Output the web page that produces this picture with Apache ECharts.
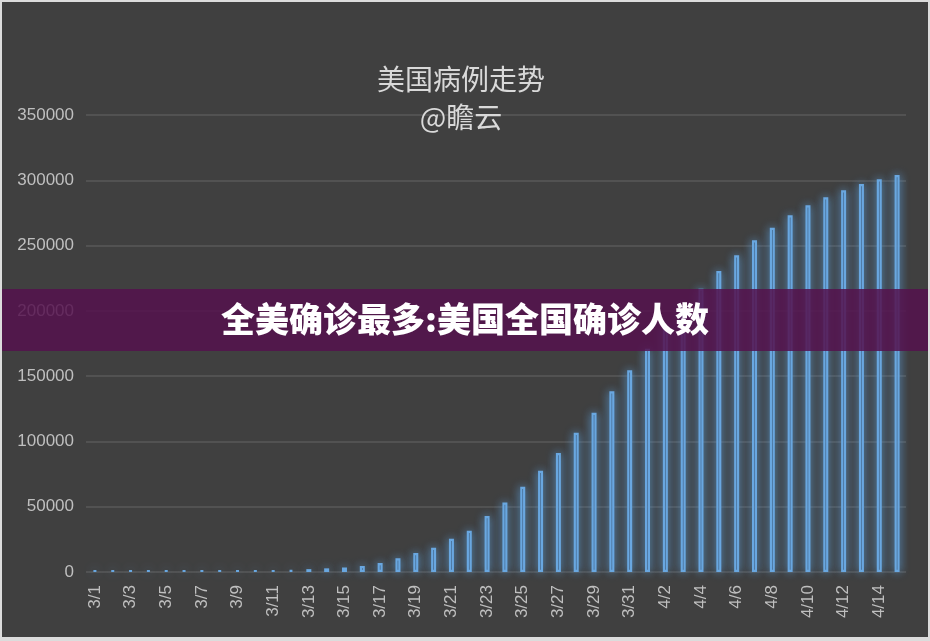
<!DOCTYPE html>
<html>
<head>
<meta charset="utf-8">
<script src="https://cdn.jsdelivr.net/npm/echarts@6/dist/echarts.min.js"></script>
<style>
  html, body { margin: 0; padding: 0; background: #dcdcdc; }
  #main { position: absolute; left: 2px; top: 2px; width: 926px; height: 635px; }
</style>
</head>
<body>
<div id="main"></div>
<script>
// 日期
var dates = ['3/1','3/2','3/3','3/4','3/5','3/6','3/7','3/8','3/9','3/10',
  '3/11','3/12','3/13','3/14','3/15','3/16','3/17','3/18','3/19','3/20',
  '3/21','3/22','3/23','3/24','3/25','3/26','3/27','3/28','3/29','3/30',
  '3/31','4/1','4/2','4/3','4/4','4/5','4/6','4/7','4/8','4/9',
  '4/10','4/11','4/12','4/13','4/14','4/15'];
// 累计确诊
var cases = [75, 100, 124, 158, 221, 319, 435, 600, 750, 1000,
  1300, 1650, 2200, 2800, 3500, 4600, 6900, 10500, 14500, 18600,
  25500, 31600, 42900, 53200, 65300, 77600, 91100, 106700, 122000, 138400,
  154500, 171000, 188000, 203000, 217000, 230500, 242500, 254000, 263700, 273200,
  280800, 287000, 292300, 297200, 300800, 304000];
var yTicks = [0, 50000, 100000, 150000, 200000, 250000, 300000, 350000];

var labelFont = 'Liberation Sans, sans-serif';
var cjkFont = 'Noto Sans CJK SC, sans-serif';

var myChart = echarts.init(document.getElementById('main'));

var option = {
  backgroundColor: '#404040',
  animation: false,
  title: [
    {
      text: '美国病例走势',
      left: 454,
      top: 58,
      textAlign: 'center',
      textStyle: { color: '#d9d9d9', fontSize: 28, fontWeight: 'normal', fontFamily: cjkFont }
    },
    {
      text: '@瞻云',
      left: 454,
      top: 96,
      textAlign: 'center',
      textStyle: { color: '#d9d9d9', fontSize: 28, fontWeight: 'normal', fontFamily: cjkFont }
    }
  ],
  grid: {
    left: 84,
    right: 22,
    top: 113,
    bottom: 65,
    outerBoundsMode: 'none'
  },
  xAxis: {
    type: 'category',
    data: dates,
    axisLine: { show: false },
    axisTick: { show: false },
    axisLabel: {
      interval: 1,
      rotate: 90,
      margin: 13,
      color: '#bfbfbf',
      fontSize: 17,
      fontFamily: labelFont
    }
  },
  yAxis: {
    type: 'value',
    min: yTicks[0],
    max: yTicks[yTicks.length - 1],
    interval: yTicks[1] - yTicks[0],
    axisLine: { show: false },
    axisTick: { show: false },
    axisLabel: {
      margin: 12,
      color: '#bfbfbf',
      fontSize: 17,
      fontFamily: labelFont,
      formatter: function (v) { return String(v); }
    },
    splitLine: { lineStyle: { color: '#595959', width: 1.5 } }
  },
  series: [
    {
      name: '确诊',
      type: 'bar',
      data: cases,
      barWidth: 5,
      barMinHeight: 2,
      itemStyle: {
        color: 'rgba(40,65,100,0.55)',
        borderColor: '#69a7e0',
        borderWidth: 2.2,
        shadowBlur: 10,
        shadowColor: 'rgba(91,155,213,0.95)'
      }
    }
  ],
  graphic: [
    {
      type: 'rect',
      left: -2,
      top: 287,
      z: 100,
      shape: { width: 930, height: 62 },
      style: { fill: 'rgba(85,18,77,0.85)' }
    },
    {
      type: 'text',
      left: 'center',
      top: 300,
      z: 101,
      style: {
        text: '全美确诊最多:美国全国确诊人数',
        fill: '#ffffff',
        font: '900 34px "Noto Sans CJK SC", sans-serif'
      }
    }
  ]
};

myChart.setOption(option);
</script>
</body>
</html>
